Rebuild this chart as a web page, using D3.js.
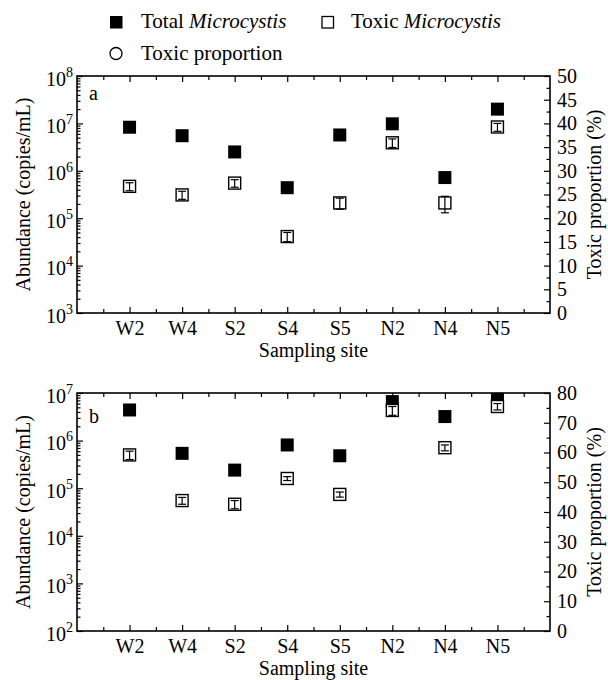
<!DOCTYPE html>
<html>
<head>
<meta charset="utf-8">
<script src="https://cdn.jsdelivr.net/npm/d3@7"></script>
<style>
  body { margin: 0; background: #fff; }
  svg, svg text { font-family: "Liberation Serif", "Times New Roman", serif; }
  .tick line { stroke: #000; stroke-width: 1.2; }
  .tick text { fill: #000; font-size: 20px; font-family: "Liberation Serif", "Times New Roman", serif; }
</style>
</head>
<body>
<script>
// sampling sites on the x axis
const sites = ['W2', 'W4', 'S2', 'S4', 'S5', 'N2', 'N4', 'N5'];

// panel a (copies/mL)
const totalA = [8.3e6, 5.5e6, 2.5e6, 4.4e5, 5.7e6, 9.8e6, 7.2e5, 2.0e7];
const toxicA = [4.7e5, 3.1e5, 5.5e5, 4.1e4, 2.1e5, 3.9e6, 2.1e5, 8.4e6];
const toxicErrA = [0.9e5, 0.6e5, 1.0e5, 0.9e4, 0.55e5, 0.8e6, 0.8e5, 1.6e6];

// panel b (copies/mL)
const totalB = [4.4e6, 5.4e5, 2.4e5, 8.1e5, 4.8e5, 6.6e6, 3.2e6, 8.7e6];
const toxicB = [5.0e5, 5.5e4, 4.6e4, 1.6e5, 7.4e4, 4.3e6, 7.1e5, 5.2e6];
const toxicErrB = [1.0e5, 0.9e4, 0.9e4, 0.15e5, 0.9e4, 0.9e6, 1.0e5, 0.8e6];

// right axis (toxic proportion, %) ticks
const propTicksA = [0, 5, 10, 15, 20, 25, 30, 35, 40, 45, 50];
const propTicksB = [0, 10, 20, 30, 40, 50, 60, 70, 80];

const W = 608, H = 680;
const svg = d3.select('body').append('svg')
  .attr('width', W)
  .attr('height', H);

const x = d3.scaleLinear().domain([0, sites.length + 1]).range([77, 550]);

function panel(opt) {
  let y = d3.scaleLog().domain([10 ** opt.logMin, 10 ** opt.logMax]).range([opt.bottom, opt.top]);
  let propTicks = opt.propTicks;
  let step = propTicks[1] - propTicks[0];
  let yr = d3.scaleLinear().domain([0, propTicks[propTicks.length - 1]]).range([opt.bottom, opt.top]);

  let g = svg.append('g').attr('class', 'panel-' + opt.id);
  let noDomain = s => s.attr('font-family', null).select('.domain').remove();

  // bottom / top axes
  let majors = d3.range(1, sites.length + 1);
  let minors = d3.range(0.5, sites.length + 1, 1);
  g.append('g')
    .attr('transform', `translate(0,${opt.bottom})`)
    .call(d3.axisBottom(x).tickValues(majors).tickSize(-6).tickPadding(8).tickFormat(i => sites[i - 1]))
    .call(noDomain);
  g.append('g')
    .attr('transform', `translate(0,${opt.bottom})`)
    .call(d3.axisBottom(x).tickValues(minors).tickSize(-4).tickFormat(''))
    .call(noDomain);
  g.append('g')
    .attr('transform', `translate(0,${opt.top})`)
    .call(d3.axisTop(x).tickValues(majors).tickSize(-6).tickFormat(''))
    .call(noDomain);
  g.append('g')
    .attr('transform', `translate(0,${opt.top})`)
    .call(d3.axisTop(x).tickValues(minors).tickSize(-4).tickFormat(''))
    .call(noDomain);

  // left log axis
  let powers = d3.range(opt.logMin, opt.logMax + 1);
  let logMinor = [];
  for (let p = opt.logMin; p < opt.logMax; p++)
    for (let m = 2; m < 10; m++) logMinor.push(m * 10 ** p);

  let left = g.append('g')
    .attr('transform', `translate(${x.range()[0]},0)`)
    .call(d3.axisLeft(y).tickValues(powers.map(p => 10 ** p)).tickSize(-6).tickPadding(4).tickFormat(''))
    .call(noDomain);
  left.selectAll('.tick text').each(function(d) {
    let t = d3.select(this).attr('dy', '0.45em');
    t.append('tspan').text('10');
    t.append('tspan').attr('dy', '-0.62em').style('font-size', '14px').text(Math.round(Math.log10(d)));
  });
  g.append('g')
    .attr('transform', `translate(${x.range()[0]},0)`)
    .call(d3.axisLeft(y).tickValues(logMinor).tickSize(-3.5).tickFormat(''))
    .call(noDomain);

  // right proportion axis
  g.append('g')
    .attr('transform', `translate(${x.range()[1]},0)`)
    .call(d3.axisRight(yr).tickValues(propTicks).tickSize(-6).tickPadding(7))
    .call(noDomain);
  g.append('g')
    .attr('transform', `translate(${x.range()[1]},0)`)
    .call(d3.axisRight(yr).tickValues(propTicks.slice(1).map(v => v - step / 2)).tickSize(-3.5).tickFormat(''))
    .call(noDomain);

  // frame
  g.append('rect')
    .attr('x', x.range()[0])
    .attr('y', opt.top)
    .attr('width', x.range()[1] - x.range()[0])
    .attr('height', opt.bottom - opt.top)
    .attr('fill', 'none')
    .attr('stroke', '#000')
    .attr('stroke-width', 1.6);

  // clip for markers
  svg.append('clipPath').attr('id', 'clip-' + opt.id)
    .append('rect')
    .attr('x', x.range()[0])
    .attr('y', opt.top)
    .attr('width', x.range()[1] - x.range()[0])
    .attr('height', opt.bottom - opt.top);

  let marks = g.append('g').attr('clip-path', `url(#clip-${opt.id})`);

  marks.selectAll('.total')
    .data(opt.total)
    .enter()
    .append('rect')
    .attr('class', 'total')
    .attr('x', (d, i) => x(i + 1) - 6.5)
    .attr('y', d => y(d) - 6.5)
    .attr('width', 13)
    .attr('height', 13)
    .attr('fill', '#000');

  let tox = marks.selectAll('.toxic')
    .data(opt.toxic.map((v, i) => ({v: v, e: opt.err[i], i: i})))
    .enter()
    .append('g')
    .attr('class', 'toxic');

  tox.append('rect')
    .attr('x', d => x(d.i + 1) - 6)
    .attr('y', d => y(d.v) - 6)
    .attr('width', 12)
    .attr('height', 12)
    .attr('fill', '#fff')
    .attr('stroke', '#000')
    .attr('stroke-width', 1.4);

  tox.append('line')
    .attr('x1', d => x(d.i + 1))
    .attr('x2', d => x(d.i + 1))
    .attr('y1', d => y(d.v + d.e))
    .attr('y2', d => y(d.v - d.e))
    .attr('stroke', '#000')
    .attr('stroke-width', 1.2);

  for (let sign of [1, -1]) {
    tox.append('line')
      .attr('x1', d => x(d.i + 1) - 4)
      .attr('x2', d => x(d.i + 1) + 4)
      .attr('y1', d => y(d.v + sign * d.e))
      .attr('y2', d => y(d.v + sign * d.e))
      .attr('stroke', '#000')
      .attr('stroke-width', 1.2);
  }

  // panel letter
  g.append('text')
    .attr('x', 89)
    .attr('y', opt.letterY)
    .style('font-size', '20px')
    .text(opt.id);

  // axis titles
  let mid = (opt.top + opt.bottom) / 2;
  g.append('text')
    .attr('x', (x.range()[0] + x.range()[1]) / 2)
    .attr('y', opt.bottom + 44)
    .attr('text-anchor', 'middle')
    .style('font-size', '20px')
    .text('Sampling site');

  g.append('text')
    .attr('transform', `translate(30,${mid}) rotate(-90)`)
    .attr('text-anchor', 'middle')
    .style('font-size', '20px')
    .text('Abundance (copies/mL)');

  g.append('text')
    .attr('transform', `translate(601,${mid}) rotate(-90)`)
    .attr('text-anchor', 'middle')
    .style('font-size', '20px')
    .text('Toxic proportion (%)');
}

panel({id: 'a', top: 76, bottom: 313, logMin: 3, logMax: 8, propTicks: propTicksA,
  total: totalA, toxic: toxicA, err: toxicErrA, letterY: 100});
panel({id: 'b', top: 393, bottom: 631, logMin: 2, logMax: 7, propTicks: propTicksB,
  total: totalB, toxic: toxicB, err: toxicErrB, letterY: 423});

// legend
let legend = svg.append('g').style('font-size', '21px');
legend.append('rect')
  .attr('x', 110).attr('y', 16).attr('width', 12.5).attr('height', 12.5)
  .attr('fill', '#000');
let t1 = legend.append('text').attr('x', 141).attr('y', 28);
t1.append('tspan').text('Total ');
t1.append('tspan').style('font-style', 'italic').text('Microcystis');

legend.append('rect')
  .attr('x', 322).attr('y', 16.5).attr('width', 11.5).attr('height', 11.5)
  .attr('fill', '#fff').attr('stroke', '#000').attr('stroke-width', 1.3);
let t2 = legend.append('text').attr('x', 351).attr('y', 28);
t2.append('tspan').text('Toxic ');
t2.append('tspan').style('font-style', 'italic').text('Microcystis');

legend.append('circle')
  .attr('cx', 116).attr('cy', 53.5).attr('r', 6)
  .attr('fill', '#fff').attr('stroke', '#000').attr('stroke-width', 1.3);
legend.append('text').attr('x', 141).attr('y', 60).text('Toxic proportion');
</script>
</body>
</html>
